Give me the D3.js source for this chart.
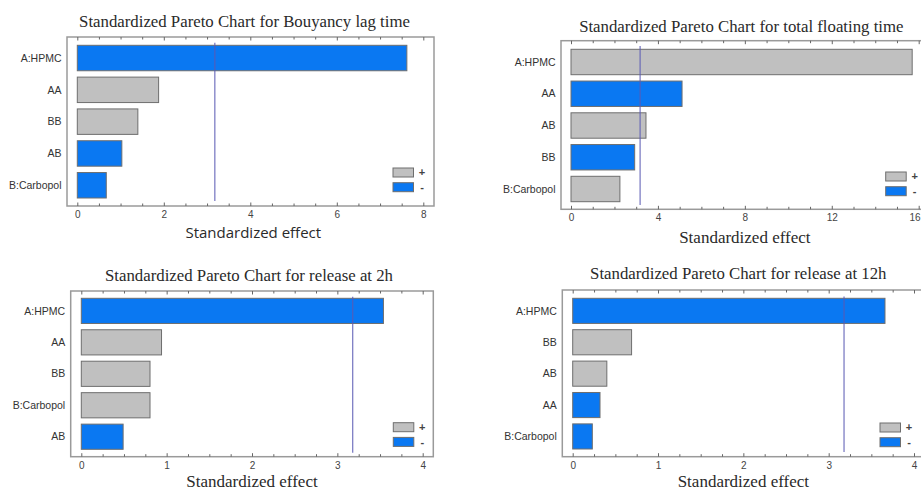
<!DOCTYPE html>
<html>
<head>
<meta charset="utf-8">
<script src="https://cdn.jsdelivr.net/npm/d3@7/dist/d3.min.js"></script>
<style>
  html, body { margin: 0; padding: 0; background: #fff; overflow: hidden; }
  svg { display: block; }
</style>
</head>
<body>
<svg id="chart" width="921" height="491"></svg>
<script>
// ---------- DATA ----------
const titles = [
  "Standardized Pareto Chart for Bouyancy lag time",
  "Standardized Pareto Chart for total floating time",
  "Standardized Pareto Chart for release at 2h",
  "Standardized Pareto Chart for release at 12h"
];
const axisTitle = "Standardized effect";

const buoyancyCategories = ["A:HPMC", "AA", "BB", "AB", "B:Carbopol"];
const buoyancyValues     = [7.62, 1.88, 1.40, 1.03, 0.67];
const buoyancySigns      = ["-", "+", "+", "-", "-"];

const floatingCategories = ["A:HPMC", "AA", "AB", "BB", "B:Carbopol"];
const floatingValues     = [15.7, 5.11, 3.45, 2.93, 2.25];
const floatingSigns      = ["+", "-", "+", "-", "+"];

const release2Categories = ["A:HPMC", "AA", "BB", "B:Carbopol", "AB"];
const release2Values     = [3.54, 0.94, 0.805, 0.805, 0.49];
const release2Signs      = ["-", "+", "+", "+", "-"];

const release12Categories = ["A:HPMC", "BB", "AB", "AA", "B:Carbopol"];
const release12Values     = [3.66, 0.69, 0.40, 0.32, 0.23];
const release12Signs      = ["-", "+", "+", "-", "-"];

const criticalValues = [3.18, 3.18, 3.18, 3.18];

const buoyancyTicks  = [0, 2, 4, 6, 8];
const floatingTicks  = [0, 4, 8, 12, 16];
const release2Ticks  = [0, 1, 2, 3, 4];
const release12Ticks = [0, 1, 2, 3, 4];

const legendLabels = ["+", "-"];

// ---------- STYLE / LAYOUT ----------
const BLUE = "#0a78f2";
const GRAY = "#c0c0c0";
const colorOf = s => s === "+" ? GRAY : BLUE;

const panels = [
  { title: titles[0], cats: buoyancyCategories, vals: buoyancyValues, signs: buoyancySigns,
    ticks: buoyancyTicks, crit: criticalValues[0],
    frame: [67, 37, 434, 206], x0: 77.3, xMaxPx: 423.3,
    barTop: 45.3, barBottom: 198, vTop: 42.7, vBottom: 201,
    titleX: 244.5, titleY: 27, axTitleY: 237.5, axSans: true,
    legX: 393, legY: 168 },
  { title: titles[1], cats: floatingCategories, vals: floatingValues, signs: floatingSigns,
    ticks: floatingTicks, crit: criticalValues[1],
    frame: [561, 40.7, 930, 209.3], x0: 571, xMaxPx: 918.7,
    barTop: 49.3, barBottom: 201.7, vTop: 46, vBottom: 205,
    titleX: 741.3, titleY: 32, axTitleY: 243, axSans: false,
    legX: 885.7, legY: 172 },
  { title: titles[2], cats: release2Categories, vals: release2Values, signs: release2Signs,
    ticks: release2Ticks, crit: criticalValues[2],
    frame: [70.7, 291, 433.3, 456.7], x0: 81.3, xMaxPx: 422.7,
    barTop: 298.3, barBottom: 449.3, vTop: 296.7, vBottom: 452.7,
    titleX: 249, titleY: 280.5, axTitleY: 487, axSans: false,
    legX: 393.3, legY: 422.7 },
  { title: titles[3], cats: release12Categories, vals: release12Values, signs: release12Signs,
    ticks: release12Ticks, crit: criticalValues[3],
    frame: [562.3, 290, 930, 456.7], x0: 572.7, xMaxPx: 914,
    barTop: 298.3, barBottom: 449, vTop: 296.5, vBottom: 452,
    titleX: 738.3, titleY: 279, axTitleY: 487, axSans: false,
    legX: 880, legY: 423 }
];

const svg = d3.select("#chart");

panels.forEach(p => {
  const g = svg.append("g");
  const [fl, ft, fr, fb] = p.frame;
  const tMin = p.ticks[0], tMax = p.ticks[p.ticks.length - 1];
  const x = d3.scaleLinear().domain([tMin, tMax]).range([p.x0, p.xMaxPx]);
  const y = d3.scaleBand().domain(p.cats).range([p.barTop, p.barBottom])
    .paddingInner(0.2).paddingOuter(0);

  // Title
  g.append("text")
    .attr("x", p.titleX).attr("y", p.titleY)
    .attr("text-anchor", "middle")
    .attr("font-family", "'Liberation Serif', 'Times New Roman', serif")
    .attr("font-size", 16.8)
    .attr("fill", "#2a2a2a")
    .text(p.title);

  // Frame
  g.append("rect")
    .attr("x", fl).attr("y", ft)
    .attr("width", fr - fl).attr("height", fb - ft)
    .attr("fill", "#fff")
    .attr("stroke", "#9a9a9a").attr("stroke-width", 1.5);

  // Ticks
  const step = p.ticks[1] - p.ticks[0];
  const minor = d3.range(tMin, tMax + step / 8, step / 4).filter(v => !p.ticks.some(t => Math.abs(t - v) < 1e-9));

  const axB = g.append("g").attr("transform", `translate(0,${fb})`)
    .call(d3.axisBottom(x).tickValues(p.ticks).tickSizeInner(-3.5).tickSizeOuter(0).tickPadding(5).tickFormat(d3.format("d")));
  const axBm = g.append("g").attr("transform", `translate(0,${fb})`)
    .call(d3.axisBottom(x).tickValues(minor).tickSizeInner(-2.5).tickSizeOuter(0).tickFormat(""));
  const axT = g.append("g").attr("transform", `translate(0,${ft})`)
    .call(d3.axisTop(x).tickValues(p.ticks).tickSizeInner(-3.5).tickSizeOuter(0).tickFormat(""));
  const axTm = g.append("g").attr("transform", `translate(0,${ft})`)
    .call(d3.axisTop(x).tickValues(minor).tickSizeInner(-2.5).tickSizeOuter(0).tickFormat(""));
  [axB, axBm, axT, axTm].forEach(a => {
    a.select(".domain").remove();
    a.selectAll(".tick line").attr("stroke", "#666").attr("stroke-width", 1);
  });
  const overflow = d => x(d) + String(d).length * 2.9 > 920;
  axB.selectAll(".tick text")
    .attr("font-family", "'Liberation Sans', Arial, sans-serif")
    .attr("font-size", 10).attr("fill", "#444")
    .attr("text-anchor", d => overflow(d) ? "end" : "middle")
    .attr("dx", d => overflow(d) ? (920 - x(d)) : 0);

  // Bars
  g.selectAll("rect.bar").data(p.cats).enter().append("rect")
    .attr("class", "bar")
    .attr("x", x(0))
    .attr("y", c => y(c))
    .attr("width", (c, i) => x(p.vals[i]) - x(0))
    .attr("height", y.bandwidth())
    .attr("fill", (c, i) => colorOf(p.signs[i]))
    .attr("stroke", "#6e6e6e").attr("stroke-width", 1);

  // Category labels
  g.selectAll("text.cat").data(p.cats).enter().append("text")
    .attr("class", "cat")
    .attr("x", fl - 5.5)
    .attr("y", c => y(c) + y.bandwidth() / 2)
    .attr("dy", "0.35em")
    .attr("text-anchor", "end")
    .attr("font-family", "'Liberation Sans', Arial, sans-serif")
    .attr("font-size", 10.5)
    .attr("fill", "#333")
    .text(c => c);

  // Critical line
  g.append("line")
    .attr("x1", x(p.crit)).attr("x2", x(p.crit))
    .attr("y1", p.vTop).attr("y2", p.vBottom)
    .attr("stroke", "#5a5ab4").attr("stroke-opacity", 0.85).attr("stroke-width", 1.2);

  // Legend
  legendLabels.forEach((lab, i) => {
    g.append("rect")
      .attr("x", p.legX).attr("y", p.legY + i * 14.7)
      .attr("width", 20.5).attr("height", 9)
      .attr("fill", colorOf(lab))
      .attr("stroke", "#6e6e6e").attr("stroke-width", 1);
    g.append("text")
      .attr("x", p.legX + 29).attr("y", p.legY + i * 14.7 + 4.5)
      .attr("dy", "0.35em")
      .attr("text-anchor", "middle")
      .attr("font-family", "'Liberation Sans', Arial, sans-serif")
      .attr("font-size", 11).attr("font-weight", "bold").attr("fill", "#444")
      .text(lab);
  });

  // Axis title
  g.append("text")
    .attr("x", (p.x0 + p.xMaxPx) / 2 + (p.axSans ? 3 : 0))
    .attr("y", p.axTitleY)
    .attr("text-anchor", "middle")
    .attr("font-family", p.axSans ? "'Open Sans', sans-serif" : "'Liberation Serif', 'Times New Roman', serif")
    .attr("font-size", p.axSans ? 15 : 17)
    .attr("fill", "#2a2a2a")
    .text(axisTitle);
});
</script>
</body>
</html>
